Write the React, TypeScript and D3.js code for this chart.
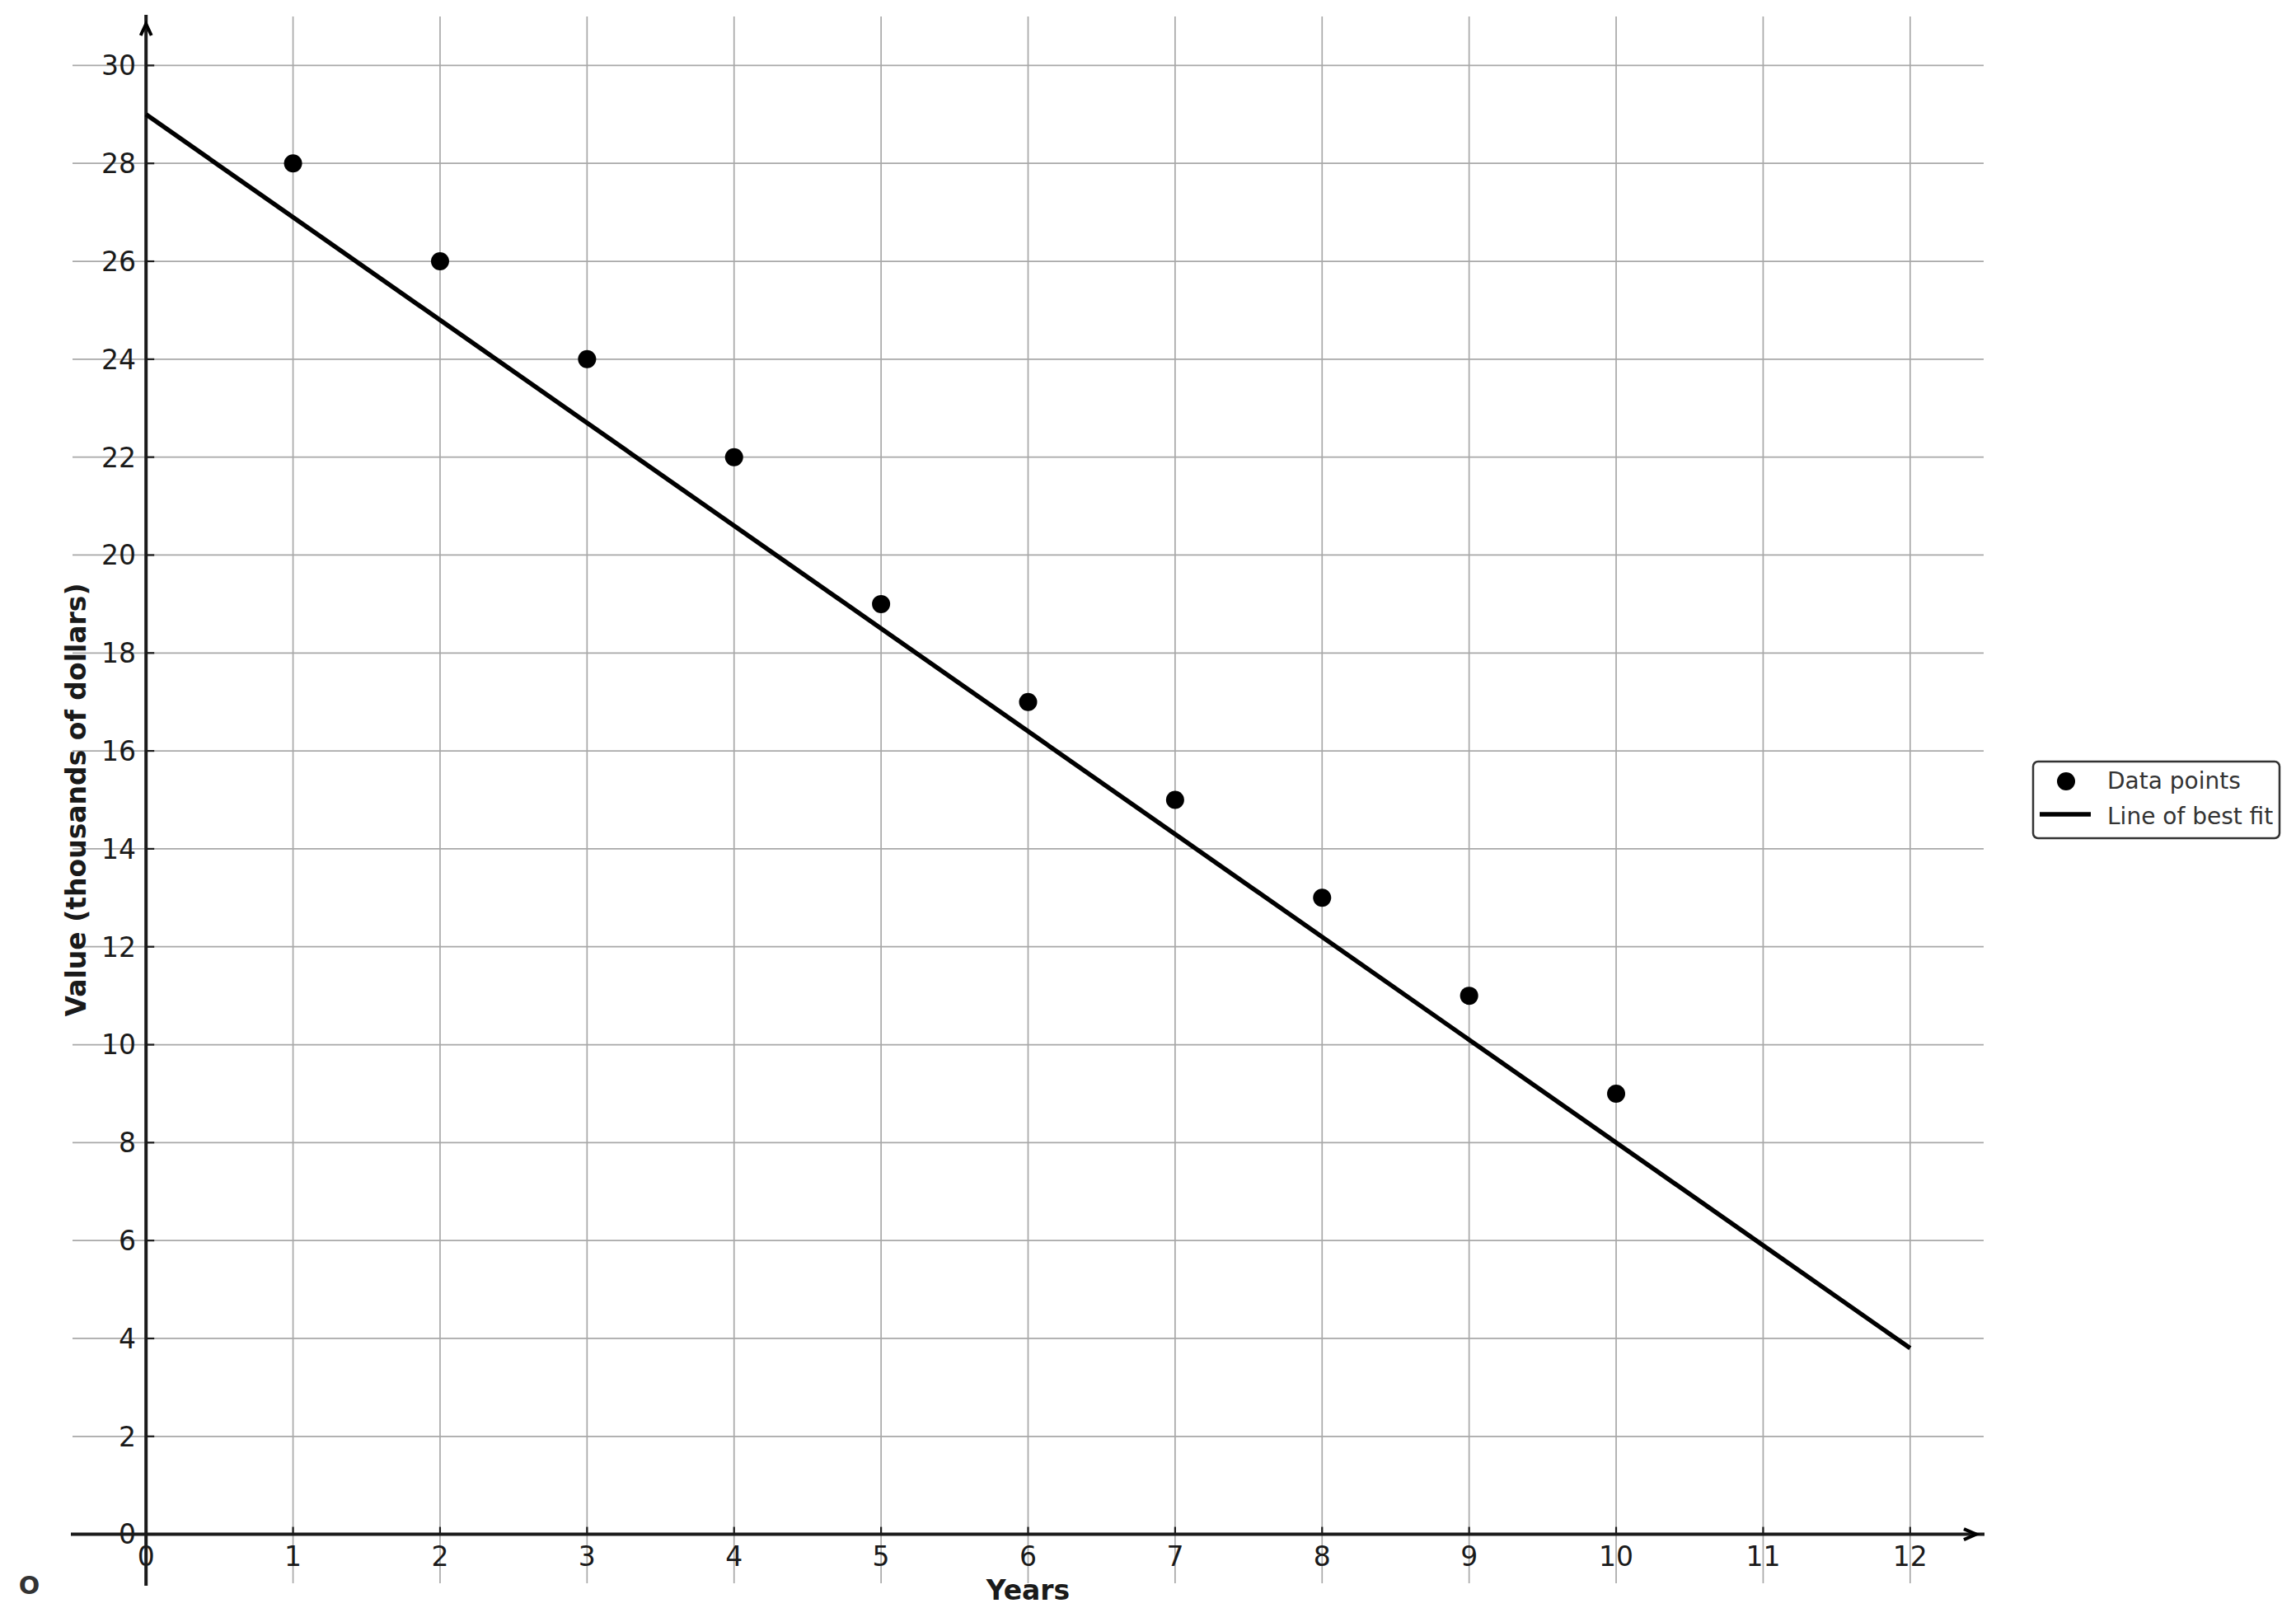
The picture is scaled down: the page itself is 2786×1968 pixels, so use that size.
import React from "react";
import * as d3 from "d3";

const years = [1, 2, 3, 4, 5, 6, 7, 8, 9, 10];
const values = [28, 26, 24, 22, 19, 17, 15, 13, 11, 9];
const fitX = [0, 12];
const fitY = [29, 3.8];
const xTicks = [0, 1, 2, 3, 4, 5, 6, 7, 8, 9, 10, 11, 12];
const yTicks = [0, 2, 4, 6, 8, 10, 12, 14, 16, 18, 20, 22, 24, 26, 28, 30];
const legendLabels = ["Data points", "Line of best fit"];

const W = 2786;
const H = 1968;
const FONT = "DejaVu Sans, sans-serif";

export default function App() {
  const x = d3.scaleLinear().domain([-0.5, 12.5]).range([88, 2407]);
  const y = d3.scaleLinear().domain([-1, 31]).range([1921, 20]);
  const x0 = x(0);
  const y0 = y(0);
  const line = d3
    .line<number>()
    .x((_, i) => x(fitX[i]))
    .y((d) => y(d));

  return (
    <svg
      width={W}
      height={H}
      style={{ position: "absolute", left: 0, top: 0, background: "#fff" }}
      fontFamily={FONT}
    >
      <rect x={0} y={0} width={W} height={H} fill="#fff" />
      {/* grid */}
      {xTicks.map((t) => (
        <line key={"gx" + t} x1={x(t)} x2={x(t)} y1={y(31)} y2={y(-1)} stroke="#a8a8a8" strokeWidth={1.7} />
      ))}
      {yTicks.map((t) => (
        <line key={"gy" + t} x1={x(-0.5)} x2={x(12.5)} y1={y(t)} y2={y(t)} stroke="#a8a8a8" strokeWidth={1.7} />
      ))}
      {/* axes */}
      <line x1={x0} x2={x0} y1={y(31) - 2} y2={y(-1) + 3} stroke="#1a1a1a" strokeWidth={4} />
      <line x1={x(-0.5) - 2} x2={x(12.5) + 1} y1={y0} y2={y0} stroke="#1a1a1a" strokeWidth={4} />
      <polyline
        points={`${x0 - 6.5},${y(31) + 23} ${x0},${y(31) + 9} ${x0 + 6.5},${y(31) + 23}`}
        fill="none"
        stroke="#000"
        strokeWidth={4}
      />
      <polyline
        points={`${x(12.5) - 24},${y0 - 6.5} ${x(12.5) - 9},${y0} ${x(12.5) - 24},${y0 + 6.5}`}
        fill="none"
        stroke="#000"
        strokeWidth={4}
      />
      {/* ticks */}
      {yTicks.map((t) => (
        <g key={"ty" + t}>
          <line x1={x0} x2={x0 + 10} y1={y(t)} y2={y(t)} stroke="#1a1a1a" strokeWidth={2.2} />
          <text x={165} y={y(t)} dy="0.36em" textAnchor="end" fontSize={33} fill="#1a1a1a">
            {t}
          </text>
        </g>
      ))}
      {xTicks.map((t) => (
        <g key={"tx" + t}>
          <line x1={x(t)} x2={x(t)} y1={y0} y2={y0 - 9} stroke="#1a1a1a" strokeWidth={2.2} />
          <text x={x(t)} y={y0 + 38} textAnchor="middle" fontSize={33} fill="#1a1a1a">
            {t}
          </text>
        </g>
      ))}
      {/* fit line */}
      <path d={line(fitY) || ""} fill="none" stroke="#000" strokeWidth={5.5} />
      {/* points */}
      {years.map((yr, i) => (
        <circle key={"p" + yr} cx={x(yr)} cy={y(values[i])} r={11} fill="#000" />
      ))}
      {/* labels */}
      <text x={x(6)} y={1941} textAnchor="middle" fontSize={33} fontWeight="bold" fill="#1a1a1a">
        Years
      </text>
      <text
        transform={`translate(104, ${(y(31) + y(-1)) / 2}) rotate(-90)`}
        textAnchor="middle"
        fontSize={33}
        fontWeight="bold"
        fill="#1a1a1a"
      >
        Value (thousands of dollars)
      </text>
      <text x={35.5} y={1934} textAnchor="middle" fontSize={30} fontWeight="bold" fill="#333">
        O
      </text>
      {/* legend */}
      <rect x={2467} y={924} width={299} height={93} rx={6} fill="#fff" stroke="#333" strokeWidth={2.5} />
      <circle cx={2507} cy={948} r={11} fill="#000" />
      <line x1={2475} x2={2537} y1={988} y2={988} stroke="#000" strokeWidth={5.5} />
      <text x={2557} y={957} fontSize={28} fill="#333">
        {legendLabels[0]}
      </text>
      <text x={2557} y={1000} fontSize={28} fill="#333">
        {legendLabels[1]}
      </text>
    </svg>
  );
}
